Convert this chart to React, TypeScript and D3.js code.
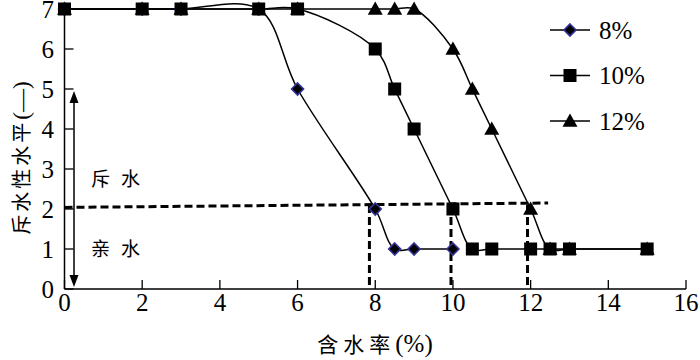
import React from "react";
import * as d3 from "d3";

const xTicks = [0, 2, 4, 6, 8, 10, 12, 14, 16];
const yTicks = [0, 1, 2, 3, 4, 5, 6, 7];

const s8x = [0, 2, 3, 5, 6, 8, 8.5, 9, 10];
const s8y = [7, 7, 7, 7, 5, 2, 1, 1, 1];
const s10x = [0, 2, 3, 5, 6, 8, 8.5, 9, 10, 10.5, 11, 12, 12.5, 13, 15];
const s10y = [7, 7, 7, 7, 7, 6, 5, 4, 2, 1, 1, 1, 1, 1, 1];
const s12x = [0, 2, 3, 5, 6, 8, 8.5, 9, 10, 10.5, 11, 12, 12.5, 13, 15];
const s12y = [7, 7, 7, 7, 7, 7, 7, 7, 6, 5, 4, 2, 1, 1, 1];
const seriesNames = ["8%", "10%", "12%"];

const hDashX = [0, 12.45];
const hDashY = [2.04, 2.15];
const vDashX = [7.85, 9.95, 11.92];
const vDashTop = 2.1;

const W = 700, H = 360;
const x = d3.scaleLinear().domain([0, 16]).range([64.5, 686]);
const y = d3.scaleLinear().domain([0, 7]).range([289, 9]);

const serif = "Liberation Serif, Times New Roman, serif";
const cjk = "Noto Sans CJK SC, sans-serif";

function Marker({ kind, cx, cy }: { kind: string; cx: number; cy: number }) {
  if (kind === "diamond") {
    const r = 6;
    return <path d={`M${cx},${cy - r}L${cx + r},${cy}L${cx},${cy + r}L${cx - r},${cy}Z`} fill="#000" stroke="#33339a" strokeWidth={1.6} />;
  }
  if (kind === "square") {
    const r = 6.5;
    return <rect x={cx - r} y={cy - r} width={2 * r} height={2 * r} fill="#000" />;
  }
  const r = 7.5;
  return <path d={`M${cx},${cy - r}L${cx + r},${cy + r * 0.75}L${cx - r},${cy + r * 0.75}Z`} fill="#000" />;
}

export default function App() {
  const series = [
    { xs: s8x, ys: s8y, kind: "diamond" },
    { xs: s10x, ys: s10y, kind: "square" },
    { xs: s12x, ys: s12y, kind: "triangle" },
  ];
  const line = d3
    .line<[number, number]>()
    .x((d) => x(d[0]))
    .y((d) => y(d[1]))
    .curve(d3.curveCatmullRom.alpha(0.5));
  const drawOrder = [2, 0, 1];
  const serifStyle = { fontFamily: serif };
  const cjkStyle = { fontFamily: cjk };
  return (
    <svg width={W} height={H} style={{ position: "absolute", left: 0, top: 0, background: "#fff" }}>
      <rect width={W} height={H} fill="#fff" />
      {series.map((s, i) => (
        <path key={"l" + i} d={line(s.xs.map((v, j) => [v, s.ys[j]] as [number, number])) || ""} fill="none" stroke="#000" strokeWidth={1.5} />
      ))}
      <line x1={x(hDashX[0])} y1={y(hDashY[0])} x2={x(hDashX[1])} y2={y(hDashY[1])} stroke="#000" strokeWidth={3} strokeDasharray="8,4" />
      {vDashX.map((v, i) => (
        <line key={"vd" + i} x1={x(v)} y1={y(vDashTop)} x2={x(v)} y2={y(0)} stroke="#000" strokeWidth={3} strokeDasharray="8,4" />
      ))}
      {drawOrder.map((i) => {
        const s = series[i];
        return s.xs.map((v, j) => <Marker key={`m${i}-${j}`} kind={s.kind} cx={x(v)} cy={y(s.ys[j])} />);
      })}
      <line x1={x(0)} y1={y(0)} x2={x(16)} y2={y(0)} stroke="#000" strokeWidth={1.5} />
      <line x1={x(0)} y1={y(0)} x2={x(0)} y2={y(7)} stroke="#000" strokeWidth={1.5} />
      {xTicks.map((t) => (
        <g key={"xt" + t}>
          <line x1={x(t)} x2={x(t)} y1={y(0)} y2={y(0) - 9} stroke="#000" strokeWidth={1.3} />
          <text x={x(t)} y={311} textAnchor="middle" style={serifStyle} fontSize={25}>{t}</text>
        </g>
      ))}
      {yTicks.map((t) => (
        <g key={"yt" + t}>
          <line x1={x(0)} x2={x(0) + 9} y1={y(t)} y2={y(t)} stroke="#000" strokeWidth={1.3} />
          <text x={54} y={Math.max(y(t) + 8.5, 18)} textAnchor="end" style={serifStyle} fontSize={25}>{t}</text>
        </g>
      ))}
      <text x={375} y={352} textAnchor="middle" fontSize={21}>
        <tspan style={cjkStyle} letterSpacing={5}>含水率</tspan>
        <tspan style={serifStyle} fontSize={25}>(%)</tspan>
      </text>
      <text transform="translate(29,158) rotate(-90)" textAnchor="middle" fontSize={20}>
        <tspan style={cjkStyle} letterSpacing={3}>斥水性水平</tspan>
        <tspan style={serifStyle} fontSize={23}>(—)</tspan>
      </text>
      <line x1={74} y1={102} x2={74} y2={276} stroke="#000" strokeWidth={1.5} />
      <path d="M74,91L69.5,103L78.5,103Z" fill="#000" />
      <path d="M74,287L69.5,275L78.5,275Z" fill="#000" />
      <text x={91} y={186} style={cjkStyle} fontSize={19} letterSpacing={11}>斥水</text>
      <text x={91} y={256} style={cjkStyle} fontSize={19} letterSpacing={11}>亲水</text>
      {series.map((s, i) => {
        const cy = 30 + i * 45.5;
        return (
          <g key={"lg" + i}>
            <line x1={550} x2={590} y1={cy} y2={cy} stroke="#000" strokeWidth={1.5} />
            <Marker kind={s.kind} cx={570} cy={cy} />
            <text x={599} y={cy + 8.5} style={serifStyle} fontSize={25}>{seriesNames[i]}</text>
          </g>
        );
      })}
    </svg>
  );
}
